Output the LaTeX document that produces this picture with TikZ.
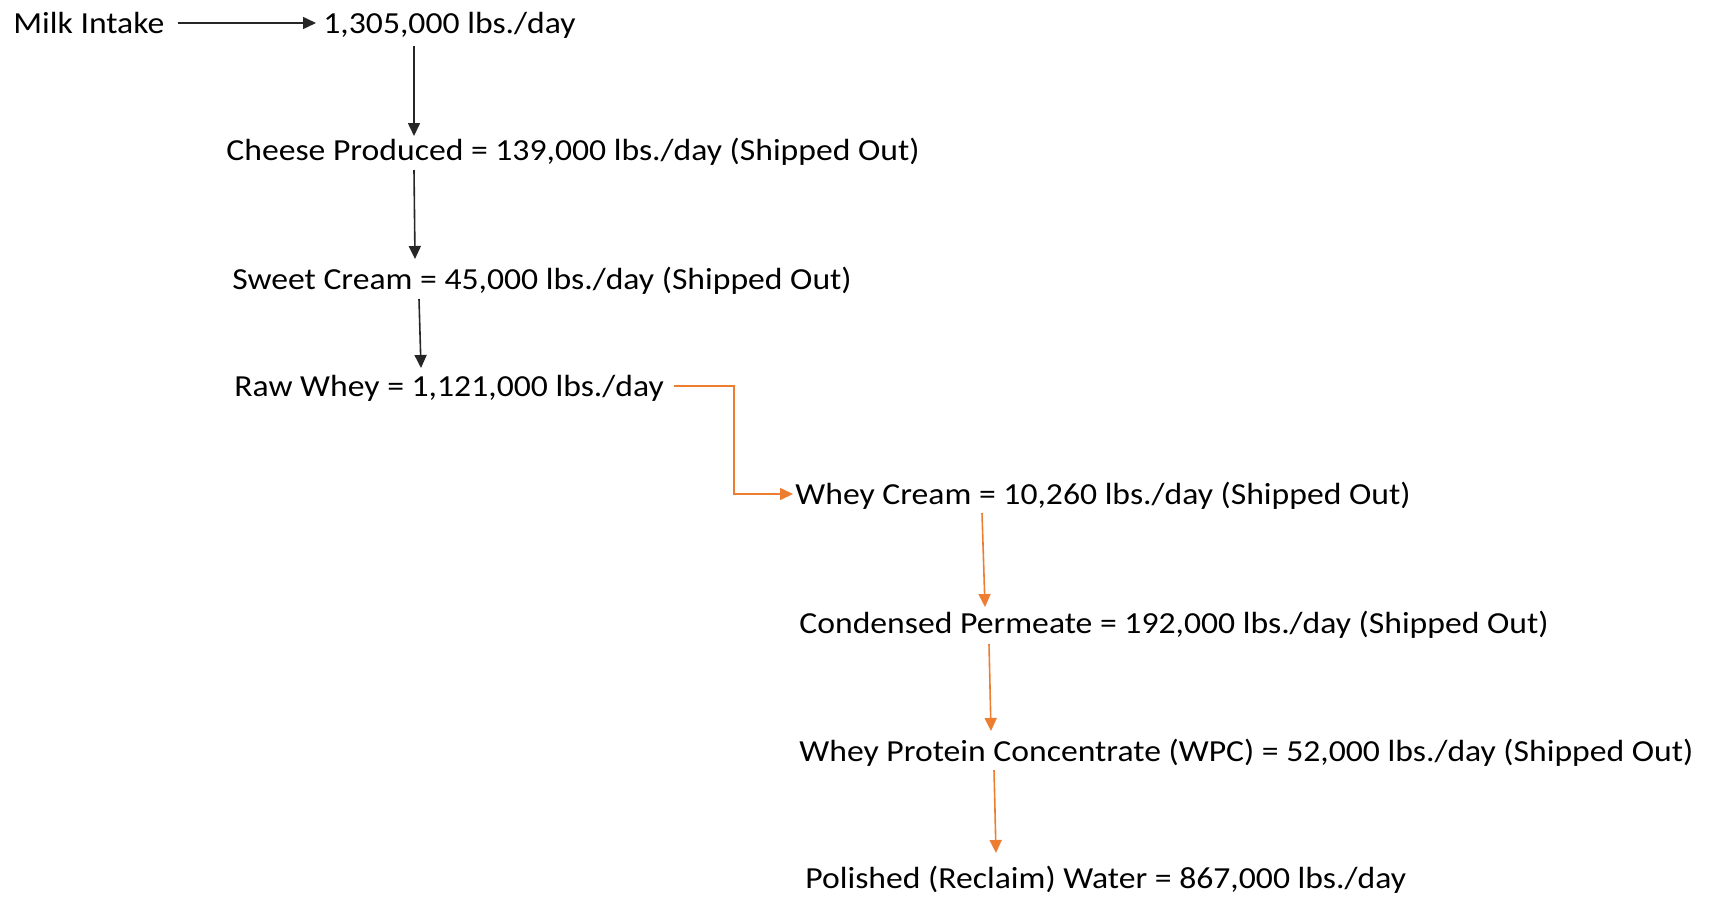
\documentclass[tikz,border=0pt]{standalone}
\usepackage{fontspec}
\setmainfont{Carlito}[FakeStretch=1.1]
\usetikzlibrary{arrows.meta, calc}
\definecolor{flow}{HTML}{ED7D31}

\begin{document}
\begin{tikzpicture}[x=0.5pt,y=0.5pt,>={Triangle[length=6.5pt,width=6pt]},
	lbl/.style={anchor=west,inner sep=0pt,text height=10.3pt,text depth=0pt,font=\fontsize{15.3}{18}\selectfont},
	blk/.style={->,line width=0.8pt,black!85},
	org/.style={->,line width=0.8pt,flow}]
	\useasboundingbox (0,0) rectangle (1711,-900);
	% Milk side
	\node[lbl] (milk) at (13,-23) {Milk Intake};
	\node[lbl] (intake) at (323,-23) {1,305,000 lbs./day};
	\node[lbl] (cheese) at (226,-150) {Cheese Produced = 139,000 lbs./day (Shipped Out)};
	\node[lbl] (sweet) at (232,-279) {Sweet Cream = 45,000 lbs./day (Shipped Out)};
	\node[lbl] (raw) at (234,-386) {Raw Whey = 1,121,000 lbs./day};
	% Whey side
	\node[lbl] (wcream) at (795,-494) {Whey Cream = 10,260 lbs./day (Shipped Out)};
	\node[lbl] (perm) at (799,-623) {Condensed Permeate = 192,000 lbs./day (Shipped Out)};
	\node[lbl] (wpc) at (799,-751) {Whey Protein Concentrate (WPC) = 52,000 lbs./day (Shipped Out)};
	\node[lbl] (water) at (805,-878) {Polished (Reclaim) Water = 867,000 lbs./day};
	% black arrows
	\draw[blk] ($(milk.east)+(13,0)$) -- ($(intake.west)+(-7,0)$);
	\draw[blk] ($(intake.west)+(91,-23)$) -- ($(cheese.west)+(188,14)$);
	\draw[blk] ($(cheese.west)+(188,-20)$) -- ($(sweet.west)+(183,20)$);
	\draw[blk] ($(sweet.west)+(187,-20)$) -- ($(raw.west)+(187,18)$);
	% orange arrows
	\draw[org] ($(raw.east)+(10,0)$) -- ++(60,0) |- ($(wcream.west)+(-2,0)$);
	\draw[org] ($(wcream.west)+(187,-19)$) -- ($(perm.west)+(186,16)$);
	\draw[org] ($(perm.west)+(190,-21)$) -- ($(wpc.west)+(192,20)$);
	\draw[org] ($(wpc.west)+(195,-19)$) -- ($(water.west)+(191,25)$);
\end{tikzpicture}
\end{document}
